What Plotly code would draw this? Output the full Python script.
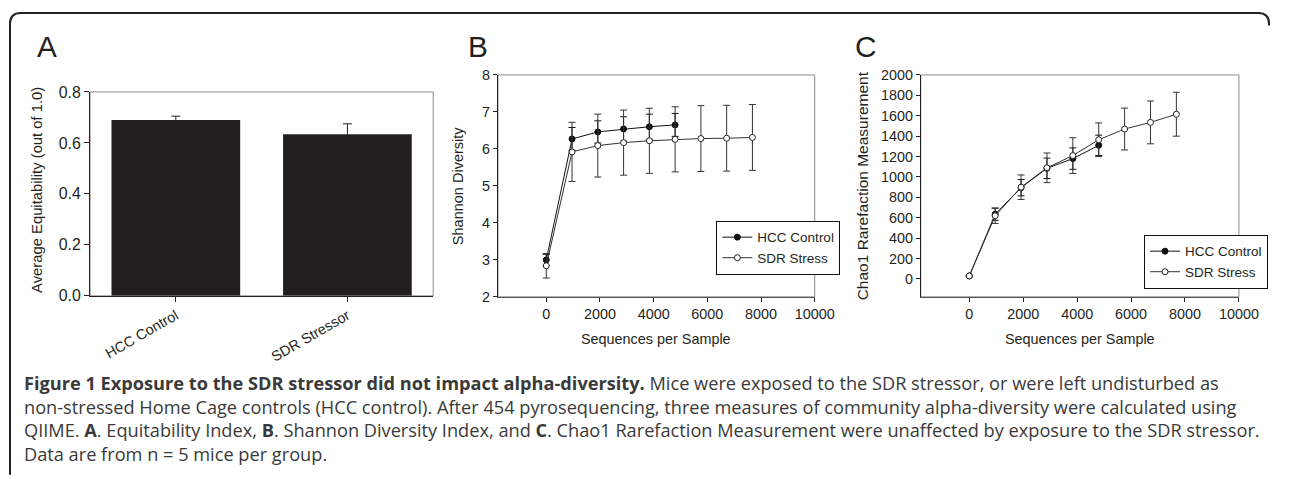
import plotly.graph_objects as go

PAGE_W, PAGE_H = 1290, 479

# ---------------- data ----------------
equit_categories = ["HCC Control", "SDR Stressor"]
equit_values = [0.690, 0.634]
equit_errors = [0.015, 0.041]

seq_depth = [0, 960, 1920, 2880, 3840, 4800, 5760, 6720, 7680]

shannon_hcc = [3.00, 6.27, 6.46, 6.54, 6.60, 6.65]
shannon_hcc_err = [0.15, 0.31, 0.30, 0.33, 0.34, 0.31]
shannon_sdr = [2.84, 5.92, 6.09, 6.17, 6.22, 6.26, 6.28, 6.29, 6.31]
shannon_sdr_err = [0.33, 0.80, 0.85, 0.88, 0.88, 0.88, 0.89, 0.89, 0.89]

chao_hcc = [30, 635, 895, 1085, 1180, 1310]
chao_hcc_err = [0, 60, 80, 100, 105, 100]
chao_sdr = [30, 620, 900, 1090, 1210, 1365, 1470, 1535, 1615]
chao_sdr_err = [0, 75, 120, 145, 175, 165, 205, 210, 215]

seq_ticks = [0, 2000, 4000, 6000, 8000, 10000]
seq_ticktext = ["0", "2000", "4000", "6000", "8000", "10000"]
shannon_ticks = [2, 3, 4, 5, 6, 7, 8]
chao_ticks = [0, 200, 400, 600, 800, 1000, 1200, 1400, 1600, 1800, 2000]
equit_ticks = [0.0, 0.2, 0.4, 0.6, 0.8]

# ---------------- layout helpers ----------------
# target picture pixel -> paper fraction (calibrated against the photographed page)
SX, SY, OY = 0.984, 0.965, 8.0
FS = 1.026  # font scale matching the same calibration

def PX(x):
    return min(x / SX, PAGE_W) / PAGE_W

def PY(y):
    return 1 - ((y - OY) / SY) / PAGE_H

def ppx(X):  # raw page pixel -> paper
    return X / PAGE_W

def ppy(Y):
    return 1 - Y / PAGE_H

FONT = "Arial, Liberation Sans, sans-serif"
CAP_FONT = "Open Sans, Noto Sans, sans-serif"
INK = "#231f20"

fig = go.Figure()

fig.add_trace(go.Bar(
    x=equit_categories, y=equit_values, width=0.75,
    marker=dict(color=INK, line=dict(width=0)),
    error_y=dict(type="data", array=equit_errors, visible=True,
                 color=INK, thickness=1, width=4.5),
    xaxis="x", yaxis="y", showlegend=False,
))

def series(x, y, err, name, filled, xa, ya, leg):
    col = "#111111" if filled else "#333333"
    return go.Scatter(
        x=x, y=y, mode="lines+markers", name=name,
        line=dict(color=col, width=1),
        marker=dict(symbol="circle", size=6, color="#111111" if filled else "white",
                    line=dict(color="#111111" if filled else "#222222", width=1)),
        error_y=dict(type="data", array=err, visible=True, color=col,
                     thickness=1, width=3.5),
        xaxis=xa, yaxis=ya, legend=leg)

fig.add_trace(series(seq_depth[:len(shannon_hcc)], shannon_hcc, shannon_hcc_err,
                     "HCC Control", True, "x2", "y2", "legend"))
fig.add_trace(series(seq_depth[:len(shannon_sdr)], shannon_sdr, shannon_sdr_err,
                     "SDR Stress", False, "x2", "y2", "legend"))
fig.add_trace(series(seq_depth[:len(chao_hcc)], chao_hcc, chao_hcc_err,
                     "HCC Control", True, "x3", "y3", "legend2"))
fig.add_trace(series(seq_depth[:len(chao_sdr)], chao_sdr, chao_sdr_err,
                     "SDR Stress", False, "x3", "y3", "legend2"))

# plot areas in target-picture pixels (left, top, right, bottom)
A_box = (90, 92, 433, 296)
B_box = (497.7, 75, 814.3, 297)
C_box = (920.3, 75, 1238.3, 297)

def dom(box):
    x0, y0, x1, y1 = box
    return [PX(x0), PX(x1)], [PY(y1), PY(y0)]

Ax, Ay = dom(A_box)
Bx, By = dom(B_box)
Cx, Cy = dom(C_box)

tickfont = dict(family=FONT, size=14 * FS, color=INK)
common_axis = dict(showgrid=False, zeroline=False, ticks="outside",
                   tickcolor=INK, tickwidth=1, linewidth=1, showline=True)

fig.update_layout(
    width=PAGE_W, height=PAGE_H,
    margin=dict(l=0, r=0, t=0, b=0),
    paper_bgcolor="white", plot_bgcolor="white",
    font=dict(family=FONT, color=INK),
    xaxis=dict(domain=Ax, anchor="y", range=[-0.5, 1.5], tickangle=-30,
               ticklen=5, linecolor=INK,
               tickfont=dict(family=FONT, size=14 * FS, color=INK), **common_axis),
    yaxis=dict(domain=Ay, anchor="x", range=[0, 0.8], tickvals=equit_ticks,
               ticktext=[f"{v:.1f}" for v in equit_ticks], ticklen=5, linecolor=INK,
               tickfont=dict(family=FONT, size=15.5 * FS, color=INK), **common_axis),
    xaxis2=dict(domain=Bx, anchor="y2", range=[-1800, 10000], tickvals=seq_ticks,
                ticktext=seq_ticktext, ticklen=4, linecolor="#555555",
                tickfont=tickfont, **common_axis),
    yaxis2=dict(domain=By, anchor="x2", range=[2, 8], tickvals=shannon_ticks,
                ticklen=4, linecolor=INK, tickfont=tickfont, **common_axis),
    xaxis3=dict(domain=Cx, anchor="y3", range=[-1800, 10000], tickvals=seq_ticks,
                ticktext=seq_ticktext, ticklen=4, linecolor="#555555",
                tickfont=tickfont, **common_axis),
    yaxis3=dict(domain=Cy, anchor="x3", range=[-175, 2000], tickvals=chao_ticks,
                ticklen=4, linecolor=INK, tickfont=tickfont, **common_axis),
    legend=dict(x=PX(716), y=PY(221), xanchor="left", yanchor="top",
                bgcolor="white", bordercolor="#111111", borderwidth=1,
                font=dict(family=FONT, size=13.5, color=INK), tracegroupgap=0,
                itemwidth=30),
    legend2=dict(x=ppx(1288), y=PY(235), xanchor="right", yanchor="top",
                 bgcolor="white", bordercolor="#111111", borderwidth=1,
                 font=dict(family=FONT, size=13.5, color=INK), tracegroupgap=0,
                 itemwidth=30),
)

shapes = []
for box in (A_box, B_box, C_box):
    x0, y0, x1, y1 = box
    shapes.append(dict(type="rect", xref="paper", yref="paper",
                       x0=PX(x0), x1=PX(x1), y0=PY(y1), y1=PY(y0),
                       line=dict(color="#8a8a8a", width=1), layer="below"))

# outer rounded frame, open at the bottom and right (raw page pixels)
fl, ft, fr = 10 / SX, (13 - OY) / SY, 1289
r = 11
path = (f"M {ppx(fl)},{ppy(PAGE_H + 5)} L {ppx(fl)},{ppy(ft + r)} "
        f"Q {ppx(fl)},{ppy(ft)} {ppx(fl + r)},{ppy(ft)} "
        f"L {ppx(fr - r)},{ppy(ft)} Q {ppx(fr)},{ppy(ft)} {ppx(fr)},{ppy(ft + r)} "
        f"L {ppx(fr)},{ppy(ft + r + 2)}")
shapes.append(dict(type="path", xref="paper", yref="paper", path=path,
                   line=dict(color="#222222", width=2)))
fig.update_layout(shapes=shapes)

ann = []
for letter, X in (("A", 47), ("B", 478), ("C", 866)):
    ann.append(dict(text=letter, x=PX(X), y=PY(47), xref="paper", yref="paper",
                    showarrow=False, xanchor="center", yanchor="middle",
                    font=dict(family=FONT, size=29 * FS, color=INK)))

def vtitle(text, x, y, size):
    return dict(text=text, x=PX(x), y=PY(y), xref="paper", yref="paper",
                showarrow=False, textangle=-90, xanchor="center", yanchor="middle",
                font=dict(family=FONT, size=size, color=INK))

ann.append(vtitle("Average Equitability (out of 1.0)", 37, 190, 14.8))
ann.append(vtitle("Shannon Diversity", 458, 186, 14.5))
ann.append(vtitle("Chao1 Rarefaction Measurement", 862, 186, 15.5))
for Xc in ((B_box[0] + B_box[2]) / 2, (C_box[0] + C_box[2]) / 2):
    ann.append(dict(text="Sequences per Sample", x=PX(Xc), y=PY(339),
                    xref="paper", yref="paper", showarrow=False,
                    xanchor="center", yanchor="middle",
                    font=dict(family=FONT, size=14.4, color=INK)))

caption_lines = [
    "<b>Figure 1 Exposure to the SDR stressor did not impact alpha-diversity.</b> "
    "Mice were exposed to the SDR stressor, or were left undisturbed as",
    "non-stressed Home Cage controls (HCC control). After 454 pyrosequencing, "
    "three measures of community alpha-diversity were calculated using",
    "QIIME. <b>A</b>. Equitability Index, <b>B</b>. Shannon Diversity Index, and "
    "<b>C</b>. Chao1 Rarefaction Measurement were unaffected by exposure to the SDR stressor.",
    "Data are from n = 5 mice per group.",
]
ann.append(dict(text="<br>".join(caption_lines), x=PX(22), y=PY(369),
                xref="paper", yref="paper", showarrow=False,
                xanchor="left", yanchor="top", align="left",
                font=dict(family=CAP_FONT, size=18.2, color="#3a3a3a")))
fig.update_layout(annotations=ann)

fig.write_html("out.html", config={"displayModeBar": False},
               post_script="document.body.style.margin='0';document.body.style.overflow='hidden';")
